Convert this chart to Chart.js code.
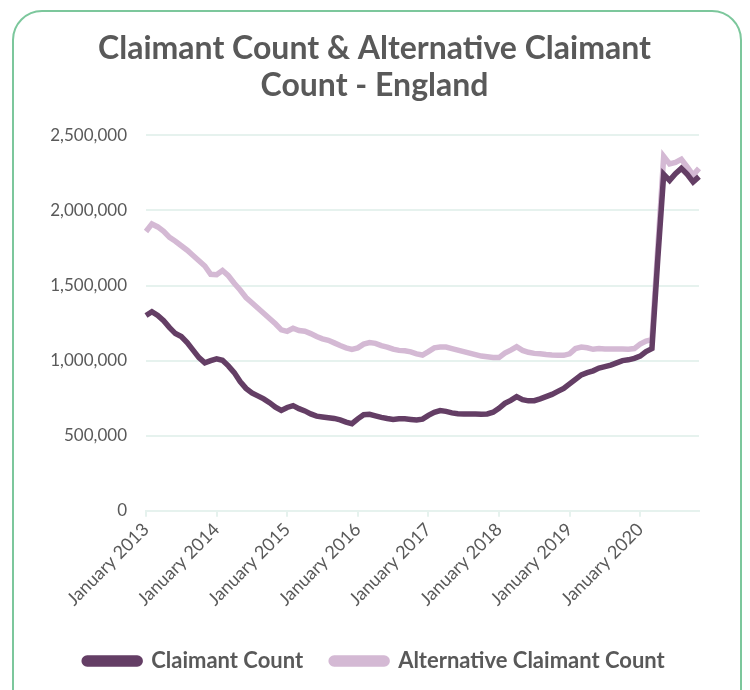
<!DOCTYPE html>
<html>
<head>
<meta charset="utf-8">
<script src="https://cdn.jsdelivr.net/npm/chart.js@4"></script>
<style>
  html, body { margin: 0; padding: 0; background: #fff; }
  body { width: 750px; height: 690px; position: relative; overflow: hidden; }
  .card {
    position: absolute; left: 12px; top: 10px; width: 730px; height: 720px;
    border: 2px solid #7cc79c; border-radius: 30px; box-sizing: border-box;
  }
  .wrap { position: absolute; left: 0; top: 0; width: 750px; height: 690px; }
</style>
</head>
<body>
<div class="card"></div>
<div class="wrap"><canvas id="myChart"></canvas></div>
<script>
const ctx = document.querySelector("#myChart").getContext("2d");

const monthNames = ["January", "February", "March", "April", "May", "June",
  "July", "August", "September", "October", "November", "December"];

// monthly, January 2013 - November 2020
const labels = [];
for (let y = 2013; y <= 2020; y++) {
  for (let m = 0; m < 12; m++) {
    if (y === 2020 && m > 10) break;
    labels.push(monthNames[m] + " " + y);
  }
}

const claimantCount = [
  1300000, 1325000, 1300000, 1265000, 1220000, 1180000, 1160000, 1120000, 1070000, 1020000, 985000, 1000000,
  1012000, 1002000, 965000, 920000, 860000, 815000, 785000, 765000, 745000, 720000, 690000, 668000,
  688000, 700000, 680000, 665000, 645000, 630000, 625000, 620000, 615000, 605000, 590000, 580000,
  612000, 640000, 642000, 632000, 622000, 614000, 608000, 612000, 612000, 608000, 604000, 610000,
  635000, 655000, 667000, 662000, 652000, 646000, 645000, 645000, 645000, 643000, 645000, 656000,
  682000, 715000, 735000, 760000, 740000, 732000, 733000, 745000, 760000, 775000, 795000, 815000,
  845000, 875000, 905000, 920000, 932000, 950000, 960000, 970000, 985000, 1000000, 1005000, 1015000,
  1030000, 1060000, 1080000, 1680000, 2240000, 2200000, 2245000, 2280000, 2240000, 2190000, 2225000
];

const altClaimantCount = [
  1860000, 1910000, 1890000, 1860000, 1820000, 1795000, 1765000, 1735000, 1700000, 1665000, 1630000, 1575000,
  1572000, 1600000, 1565000, 1515000, 1470000, 1420000, 1385000, 1350000, 1315000, 1280000, 1245000, 1205000,
  1195000, 1215000, 1200000, 1195000, 1180000, 1160000, 1145000, 1135000, 1118000, 1100000, 1085000, 1075000,
  1085000, 1110000, 1120000, 1115000, 1100000, 1090000, 1076000, 1068000, 1065000, 1058000, 1045000, 1037000,
  1060000, 1085000, 1090000, 1090000, 1080000, 1070000, 1060000, 1050000, 1040000, 1030000, 1025000, 1020000,
  1020000, 1050000, 1070000, 1092000, 1068000, 1055000, 1048000, 1045000, 1040000, 1037000, 1035000, 1035000,
  1045000, 1080000, 1090000, 1085000, 1075000, 1080000, 1078000, 1078000, 1077000, 1077000, 1076000, 1080000,
  1110000, 1130000, 1140000, 1750000, 2360000, 2310000, 2320000, 2340000, 2290000, 2235000, 2280000
];

const seriesNames = ["Claimant Count", "Alternative Claimant Count"];
const yTicks = [0, 500000, 1000000, 1500000, 2000000, 2500000];

const textColor = "#595959";
const gridColor = "#e6f2ee";
const fontFamily = "Lato, 'Noto Sans', sans-serif";

const data = {
  labels,
  datasets: [{
    label: seriesNames[0],
    data: claimantCount,
    borderColor: "#643e65",
    backgroundColor: "#643e65",
    borderWidth: 5.5,
    pointRadius: 0,
    tension: 0,
    order: 1,
  }, {
    label: seriesNames[1],
    data: altClaimantCount,
    borderColor: "#d4b9d4",
    backgroundColor: "#d4b9d4",
    borderWidth: 5.5,
    pointRadius: 0,
    tension: 0,
    order: 2,
  }]
};

const config = {
  type: 'line',
  data: data,
  options: {
    responsive: true,
    maintainAspectRatio: false,
    animation: false,
    layout: { padding: { left: 50, right: 51, top: 23, bottom: 8 } },
    plugins: {
      title: {
        display: true,
        text: ["Claimant Count & Alternative Claimant", "Count - England"],
        color: textColor,
        font: { family: fontFamily, size: 32, weight: "bold", lineHeight: 1.13 },
        padding: { top: 8, bottom: 32 },
      },
      legend: {
        position: 'bottom',
        labels: {
          color: textColor,
          font: { family: fontFamily, size: 22, weight: "bold" },
          boxWidth: 56,
          boxHeight: 6,
          useBorderRadius: true,
          borderRadius: 3,
          padding: 28,
        }
      },
      tooltip: { enabled: false },
    },
    scales: {
      x: {
        afterFit: (axis) => { axis.paddingLeft = 0; axis.paddingRight = 0; axis.height += 10; },
        grid: {
          drawOnChartArea: false,
          drawTicks: true,
          tickLength: 6,
          color: (c) => (c.index % 12 === 0 ? gridColor : "rgba(0,0,0,0)"),
          lineWidth: 2,
        },
        border: { display: true, color: gridColor, width: 2 },
        ticks: {
          autoSkip: false,
          minRotation: 45,
          maxRotation: 45,
          color: textColor,
          font: { family: fontFamily, size: 18 },
          padding: 2,
          callback: function (value, index) {
            return index % 12 === 0 ? labels[index] : "";
          }
        }
      },
      y: {
        min: 0,
        max: 2500000,
        afterBuildTicks: (axis) => { axis.ticks = yTicks.map(v => ({ value: v })); },
        afterFit: (axis) => { axis.width = 96; },
        grid: { color: gridColor, lineWidth: 2, drawTicks: false },
        border: { display: false },
        ticks: {
          color: textColor,
          font: { family: fontFamily, size: 17 },
          padding: 19,
          callback: function (value) {
            return value.toLocaleString("en-GB");
          }
        }
      }
    }
  }
};

const myChart = new Chart(ctx, config);
</script>
</body>
</html>
